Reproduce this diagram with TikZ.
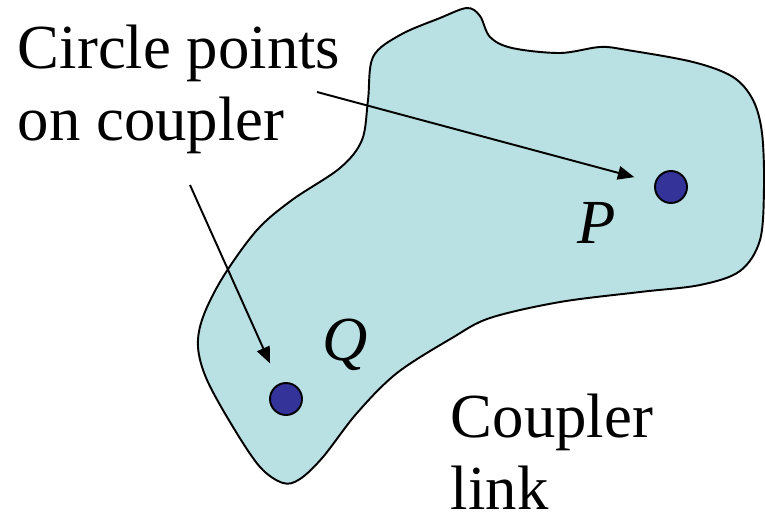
\documentclass[tikz,border=0pt]{standalone}
\usepackage{fontspec}
\setmainfont{Liberation Serif}
\usetikzlibrary{arrows.meta}

\begin{document}
\begin{tikzpicture}[x=0.02cm, y=-0.02cm, line width=1.1pt,
    >={Triangle[length=0.33cm, width=0.27cm]},
    label text/.style={inner sep=0, align=left, font=\fontsize{35.7}{41}\selectfont},
    point dot/.style={circle, draw, fill=dotcolor, inner sep=0, minimum size=0.64cm}]

  % Colors
  \definecolor{linkcolor}{HTML}{B9E0E3}
  \definecolor{dotcolor}{HTML}{333399}

  \useasboundingbox (0,0) rectangle (765,521);

  % Coupler link outline
  \draw[fill=linkcolor, line width=1.1pt] plot[smooth cycle, tension=0.55] coordinates {
    (467,8) (480,16) (490,37) (512,48) (560,53) (600,47) (627,50)
    (693,62) (733,77) (753,100) (762,133) (764,187) (760,240) (740,271)
    (700,285) (640,292) (560,302) (490,318) (452,338) (397,373)
    (357,413) (323,457) (300,479) (283,483) (260,467) (233,427)
    (207,380) (198,347) (203,317) (223,277) (257,230) (292,200)
    (340,168) (362,140) (368,100) (373,57) (400,35) (440,18)};

  % Points on the coupler
  \node[point dot] (P) at (671,187) {};
  \node[point dot] (Q) at (286,399) {};
  \node[label text, anchor=base west] (Plabel) at (577,243) {\textit{P}};
  \node[label text, anchor=base west] (Qlabel) at (322,360) {\textit{Q}};

  % Labels
  \node[label text, anchor=north west] (circlepts) at (17,24) {Circle points\\on coupler};
  \node[label text, anchor=north west, text depth=0pt] (couplerlink) at (450,393) {Coupler\\link};

  % Arrows
  \coordinate (fromP) at (317,92);
  \coordinate (fromQ) at (190,185);
  \draw[->, shorten >=0.42cm] (fromP) -- (P);
  \draw[->, shorten >=0.44cm] (fromQ) -- (Q);

\end{tikzpicture}
\end{document}
